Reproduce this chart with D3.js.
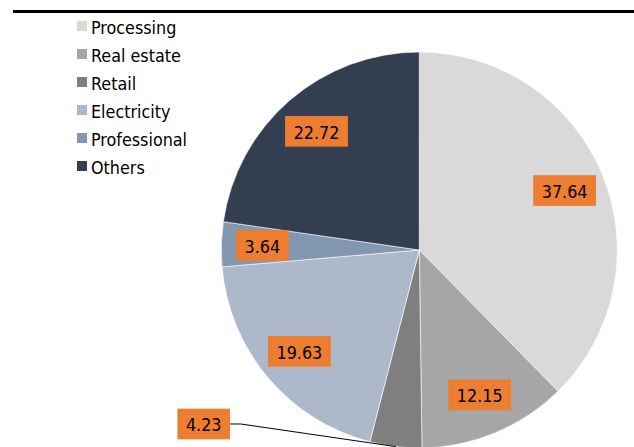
<!DOCTYPE html>
<html>
<head>
<meta charset="utf-8">
<script src="https://cdn.jsdelivr.net/npm/d3@7"></script>
<style>
  html, body { margin: 0; padding: 0; background: #fff; }
  svg { display: block; }
  text { font-family: "DejaVu Sans Condensed", "DejaVu Sans", sans-serif; font-stretch: condensed; }
</style>
</head>
<body>
<svg id="chart" width="634" height="447"></svg>
<script>
// Sector shares (%)
const categories = ["Processing", "Real estate", "Retail", "Electricity", "Professional", "Others"];
const shares = [37.64, 12.15, 4.23, 19.63, 3.64, 22.72];
const colors = ["#d9d9d9", "#a6a6a6", "#7f7f7f", "#adb9ca", "#8497b0", "#333f50"];
// Labels drawn outside the pie with a leader line
const outsideLabels = ["Retail"];

const width = 634, height = 447;
const cx = 419.3, cy = 250, radius = 198, labelRadius = 157;
const fontSize = 17.8;

const svg = d3.select("#chart");

// Top rule
svg.append("line")
  .attr("x1", 13).attr("x2", width)
  .attr("y1", 11.5).attr("y2", 11.5)
  .attr("stroke", "#000").attr("stroke-width", 3);

const data = categories.map((c, i) => ({ name: c, value: shares[i], color: colors[i] }));

const pie = d3.pie().value(d => d.value).sort(null);
const arcs = pie(data);
const arc = d3.arc().innerRadius(0).outerRadius(radius);
const labelArc = d3.arc().innerRadius(labelRadius).outerRadius(labelRadius);
const edgeArc = d3.arc().innerRadius(radius).outerRadius(radius);

const g = svg.append("g").attr("transform", `translate(${cx},${cy})`);

g.selectAll("path.slice")
  .data(arcs)
  .join("path")
  .attr("class", "slice")
  .attr("d", arc)
  .attr("fill", d => d.data.color)
  .attr("stroke", "#fff")
  .attr("stroke-width", 0.6);

// Value labels in orange boxes
const fmt = d3.format(".2f");
const boxH = 30.7, padX = 8.5;

arcs.forEach(d => {
  const txt = fmt(d.data.value);
  const lg = g.append("g");
  const t = lg.append("text")
    .attr("font-size", fontSize)
    .attr("fill", "#000")
    .attr("text-anchor", "middle")
    .attr("dominant-baseline", "central")
    .text(txt);
  const w = t.node().getComputedTextLength() + padX * 2;

  let x, y;
  if (outsideLabels.includes(d.data.name)) {
    const [ax, ay] = edgeArc.centroid(d);
    const ex = ax - 155, ey = ay - 22.6;
    g.append("polyline")
      .attr("points", [[ax, ay], [ex, ey], [ex - 10.7, ey]].map(p => p.join(",")).join(" "))
      .attr("fill", "none")
      .attr("stroke", "#000")
      .attr("stroke-width", 1);
    x = ex - 10.7 - w / 2;
    y = ey;
  } else {
    [x, y] = labelArc.centroid(d);
  }
  lg.insert("rect", "text")
    .attr("x", x - w / 2).attr("y", y - boxH / 2)
    .attr("width", w).attr("height", boxH)
    .attr("fill", "#ed7d31");
  t.attr("x", x).attr("y", y + 1);
});

// Legend
const legend = svg.append("g").attr("transform", "translate(77,26)");
const rows = legend.selectAll("g")
  .data(data)
  .join("g")
  .attr("transform", (d, i) => `translate(0,${i * 28})`);
rows.append("rect")
  .attr("x", 0).attr("y", -5)
  .attr("width", 10).attr("height", 10)
  .attr("fill", d => d.color);
rows.append("text")
  .attr("x", 14).attr("y", 1)
  .attr("font-size", fontSize)
  .attr("dominant-baseline", "central")
  .attr("fill", "#000")
  .text(d => d.name);
</script>
</body>
</html>
